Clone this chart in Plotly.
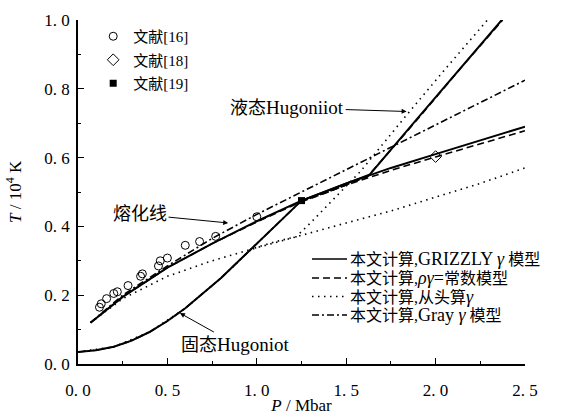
import plotly.graph_objects as go

# ---------------- data ----------------
# experimental points
ref16_P = [0.12, 0.13, 0.16, 0.20, 0.22, 0.28, 0.35, 0.36, 0.45, 0.46, 0.50, 0.60, 0.68, 0.77, 1.00]
ref16_T = [0.165, 0.175, 0.19, 0.205, 0.21, 0.228, 0.255, 0.262, 0.285, 0.30, 0.308, 0.345, 0.356, 0.371, 0.428]
ref18_P = [2.0]
ref18_T = [0.603]
ref19_P = [1.25]
ref19_T = [0.475]

# melting lines
melt_P = [0.07, 0.25, 0.5, 0.75, 1.0, 1.25, 1.5, 1.75, 2.0, 2.25, 2.5]
melt_grizzly = [0.12, 0.195, 0.28, 0.35, 0.415, 0.475, 0.525, 0.57, 0.61, 0.65, 0.69]
melt_rho = [0.12, 0.195, 0.28, 0.35, 0.413, 0.472, 0.52, 0.563, 0.602, 0.64, 0.678]
melt_abinitio = [0.12, 0.19, 0.255, 0.30, 0.338, 0.375, 0.41, 0.445, 0.485, 0.525, 0.57]
melt_gray = [0.12, 0.2, 0.285, 0.365, 0.435, 0.5, 0.565, 0.63, 0.695, 0.76, 0.825]

# solid Hugoniot (common)
hs_P = [0.0, 0.1, 0.2, 0.3, 0.4, 0.5, 0.6, 0.7, 0.8, 0.9, 1.0, 1.1, 1.2, 1.25]
hs_T = [0.035, 0.04, 0.05, 0.068, 0.093, 0.125, 0.162, 0.205, 0.25, 0.30, 0.35, 0.40, 0.452, 0.475]

# GRIZZLY: mixed phase along melt, then liquid Hugoniot
hg_P = [1.25, 1.4, 1.63, 1.9, 2.15, 2.37]
hg_T = [0.475, 0.505, 0.55, 0.715, 0.868, 1.0]
# rho*gamma = const
hr_P = [1.25, 1.4, 1.62, 1.9, 2.15, 2.375]
hr_T = [0.472, 0.50, 0.545, 0.712, 0.866, 1.0]
# ab initio gamma: solid part up to melt, mixed, liquid
ha_P = [0.0, 0.2, 0.4, 0.6, 0.8, 0.97, 1.1, 1.22, 1.30, 1.58, 1.84, 2.05, 2.29]
ha_T = [0.035, 0.05, 0.093, 0.162, 0.25, 0.334, 0.355, 0.37, 0.41, 0.56, 0.725, 0.855, 1.0]

x_tickvals = [0.0, 0.5, 1.0, 1.5, 2.0, 2.5]
x_ticktext = ["0. 0", "0. 5", "1. 0", "1. 5", "2. 0", "2. 5"]
y_tickvals = [0.0, 0.2, 0.4, 0.6, 0.8, 1.0]
y_ticktext = ["0. 0", "0. 2", "0. 4", "0. 6", "0. 8", "1. 0"]


def latin(s, size=18):
    return f'<span style="font-size:{size}px">{s}</span>'


names = ["本文计算," + latin("GRIZZLY <i>γ</i>") + " 模型",
         "本文计算," + latin("<i>ργ</i>=") + "常数模型",
         "本文计算,从头算" + latin("<i>γ</i>"),
         "本文计算," + latin("Gray <i>γ</i>") + " 模型"]
ref_names = ["文献[16]", "文献[18]", "文献[19]"]

SERIF = "Liberation Serif, Noto Sans CJK SC, serif"
BLACK = "black"

fig = go.Figure()

dashes = ["solid", "7px,4px", "1.5px,4.5px", "7px,3px,2px,3px"]
widths = [2.0, 1.6, 1.6, 1.6]
melts = [melt_grizzly, melt_rho, melt_abinitio, melt_gray]

for nm, d, w, mt in zip(names, dashes, widths, melts):
    fig.add_trace(go.Scatter(x=melt_P, y=mt, mode="lines", name=nm, showlegend=False,
                             line=dict(color=BLACK, width=w, dash=d)))

# Hugoniots
fig.add_trace(go.Scatter(x=hs_P, y=hs_T, mode="lines", showlegend=False,
                         line=dict(color=BLACK, width=widths[0], dash=dashes[0])))
fig.add_trace(go.Scatter(x=hs_P, y=hs_T, mode="lines", showlegend=False,
                         line=dict(color=BLACK, width=widths[3], dash=dashes[3])))
fig.add_trace(go.Scatter(x=hg_P, y=hg_T, mode="lines", showlegend=False,
                         line=dict(color=BLACK, width=widths[0], dash=dashes[0])))
fig.add_trace(go.Scatter(x=hr_P, y=hr_T, mode="lines", showlegend=False,
                         line=dict(color=BLACK, width=widths[1], dash=dashes[1])))
fig.add_trace(go.Scatter(x=ha_P, y=ha_T, mode="lines", showlegend=False,
                         line=dict(color=BLACK, width=widths[2], dash=dashes[2])))

# experimental points
fig.add_trace(go.Scatter(x=ref16_P, y=ref16_T, mode="markers", name=ref_names[0],
                         marker=dict(symbol="circle-open", size=8, color=BLACK, line=dict(width=1)),
                         legendgroup="a"))
fig.add_trace(go.Scatter(x=ref18_P, y=ref18_T, mode="markers", name=ref_names[1],
                         marker=dict(symbol="diamond-open", size=9, color=BLACK, line=dict(width=1)),
                         legendgroup="b"))
fig.add_trace(go.Scatter(x=ref19_P, y=ref19_T, mode="markers", name=ref_names[2],
                         marker=dict(symbol="square", size=7, color=BLACK),
                         legendgroup="c"))

# manual legend for the model curves (bottom right)
PLOT_L, PLOT_W, PLOT_B, PLOT_H = 78, 447, 364, 344
row_py = [259, 278, 296.5, 315]
for nm, d, w, py in zip(names, dashes, widths, row_py):
    yy = (PLOT_B - py) / PLOT_H
    fig.add_shape(type="line", xref="paper", yref="paper",
                  x0=(312 - PLOT_L) / PLOT_W, x1=(347 - PLOT_L) / PLOT_W, y0=yy, y1=yy,
                  line=dict(color=BLACK, width=1.4 if d != "solid" else 1.6, dash=d))
    fig.add_annotation(xref="paper", yref="paper", x=(348 - PLOT_L) / PLOT_W, y=yy,
                       xanchor="left", yanchor="middle", text=nm, showarrow=False,
                       font=dict(family=SERIF, size=16, color=BLACK))

ann_font = dict(family=SERIF, size=18, color=BLACK)
fig.add_annotation(x=0.84, y=0.41, ax=0.347, ay=0.435, axref="x", ayref="y",
                   text="熔化线", showarrow=True, arrowhead=2, arrowsize=1,
                   arrowwidth=1, arrowcolor=BLACK, font=ann_font)
fig.add_annotation(x=1.838, y=0.734, ax=1.17, ay=0.745, axref="x", ayref="y",
                   text="液态" + latin("Hugoniiot", 19), showarrow=True, arrowhead=2, arrowsize=1,
                   arrowwidth=1, arrowcolor=BLACK, font=ann_font)
fig.add_annotation(x=0.57, y=0.148, ax=0.88, ay=0.058, axref="x", ayref="y",
                   text="固态" + latin("Hugoniot", 19), showarrow=True, arrowhead=2, arrowsize=1,
                   arrowwidth=1, arrowcolor=BLACK, font=ann_font)

# y-axis title
fig.add_annotation(xref="paper", yref="paper", x=(14 - PLOT_L) / PLOT_W, y=0.5,
                   xanchor="center", yanchor="middle", textangle=-90, showarrow=False,
                   text="<i>T</i> / 10<sup>4</sup> K", font=dict(family=SERIF, size=17, color=BLACK))

axis_common = dict(showline=True, linecolor=BLACK, linewidth=1.5, showgrid=False,
                   zeroline=False, ticks="inside", ticklen=6, tickwidth=1.2,
                   tickcolor=BLACK, tickfont=dict(family=SERIF, size=17, color=BLACK),
                   mirror=False, automargin=False)

fig.update_layout(
    width=575, height=420,
    margin=dict(l=78, r=50, t=20, b=56),
    paper_bgcolor="white", plot_bgcolor="white",
    xaxis=dict(range=[0, 2.5], tickvals=x_tickvals, ticktext=x_ticktext,
               minor=dict(dtick=0.25, ticks="inside", ticklen=3, tickcolor=BLACK),
               ticklabelstandoff=10,
               title=dict(text="<i>P</i> / Mbar", font=dict(family=SERIF, size=17, color=BLACK),
                          standoff=0),
               **axis_common),
    yaxis=dict(range=[0, 1.0], tickvals=y_tickvals, ticktext=y_ticktext,
               minor=dict(dtick=0.1, ticks="inside", ticklen=3, tickcolor=BLACK),
               ticklabelstandoff=3,
               **axis_common),
    legend=dict(x=0.034, y=1.0, xanchor="left", yanchor="top",
                font=dict(family=SERIF, size=15, color=BLACK),
                bgcolor="rgba(0,0,0,0)", traceorder="grouped", tracegroupgap=1),
    showlegend=True,
)

fig.write_html("out.html")
